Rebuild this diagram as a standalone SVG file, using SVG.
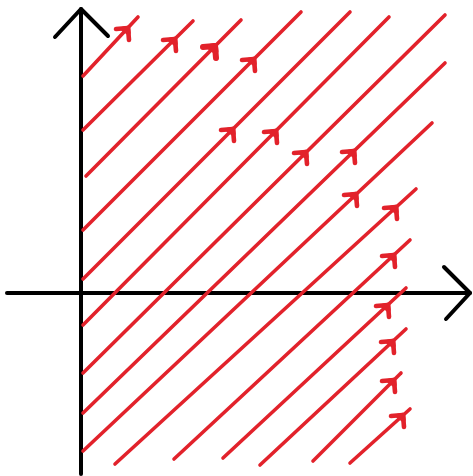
<svg xmlns="http://www.w3.org/2000/svg" xmlns:xlink="http://www.w3.org/1999/xlink" width="473" height="476" viewBox="0 0 473 476">
<style>
.ax{stroke:#000;stroke-width:4;fill:none;stroke-linecap:round;stroke-linejoin:round}
.fl{stroke:#e2222b;stroke-width:3.6;fill:none;stroke-linecap:round;stroke-linejoin:round}
.ar{stroke:#e2222b;stroke-width:4.6;fill:#e2222b;stroke-linecap:round;stroke-linejoin:round}
</style>
<defs>
<g id="ah"><path d="M-12,1 L0,0 L1,12" fill="none"/><path d="M-5,1 L0,0 L0.5,5 Z"/></g>
</defs>
<rect width="473" height="476" fill="#fff"/>
<g id="axes" class="ax">
<path d="M81,474 L81,9"/>
<path d="M55,37 L81,9 L108,36"/>
<path d="M7,293 L470,293"/>
<path d="M444,267 L470,293 L446,319"/>
</g>
<g id="connectors" class="fl">
<path d="M83,76 L138,17"/>
<path d="M83,130 L193,21"/>
<path d="M86,176 L241,20"/>
<path d="M83,230 L301,12"/>
<path d="M83,279 L350,12"/>
<path d="M83,325 L389,17"/>
<path d="M83,373 L445,15"/>
<path d="M83,413 L445,63"/>
<path d="M83,451 L432,123"/>
<path d="M115,464 L416,189"/>
<path d="M174,459 L410,240"/>
<path d="M223,458 L406,288"/>
<path d="M260,465 L406,329"/>
<path d="M313,461 L401,373"/>
<path d="M350,463 L410,409"/>
</g>
<g id="arrows" class="ar">
<use xlink:href="#ah" transform="translate(128,28)"/>
<use xlink:href="#ah" transform="translate(175,39)"/>
<use xlink:href="#ah" transform="translate(215,46)" style="stroke-width:6"/>
<use xlink:href="#ah" transform="translate(254,59)"/>
<use xlink:href="#ah" transform="translate(233,129)"/>
<use xlink:href="#ah" transform="translate(276,131)"/>
<use xlink:href="#ah" transform="translate(306,152)"/>
<use xlink:href="#ah" transform="translate(354,151)"/>
<use xlink:href="#ah" transform="translate(356,194)"/>
<use xlink:href="#ah" transform="translate(396,207)"/>
<use xlink:href="#ah" transform="translate(394,255)"/>
<use xlink:href="#ah" transform="translate(388,305)"/>
<use xlink:href="#ah" transform="translate(393,341)"/>
<use xlink:href="#ah" transform="translate(394,380)"/>
<use xlink:href="#ah" transform="translate(403,415)"/>
</g>
</svg>
